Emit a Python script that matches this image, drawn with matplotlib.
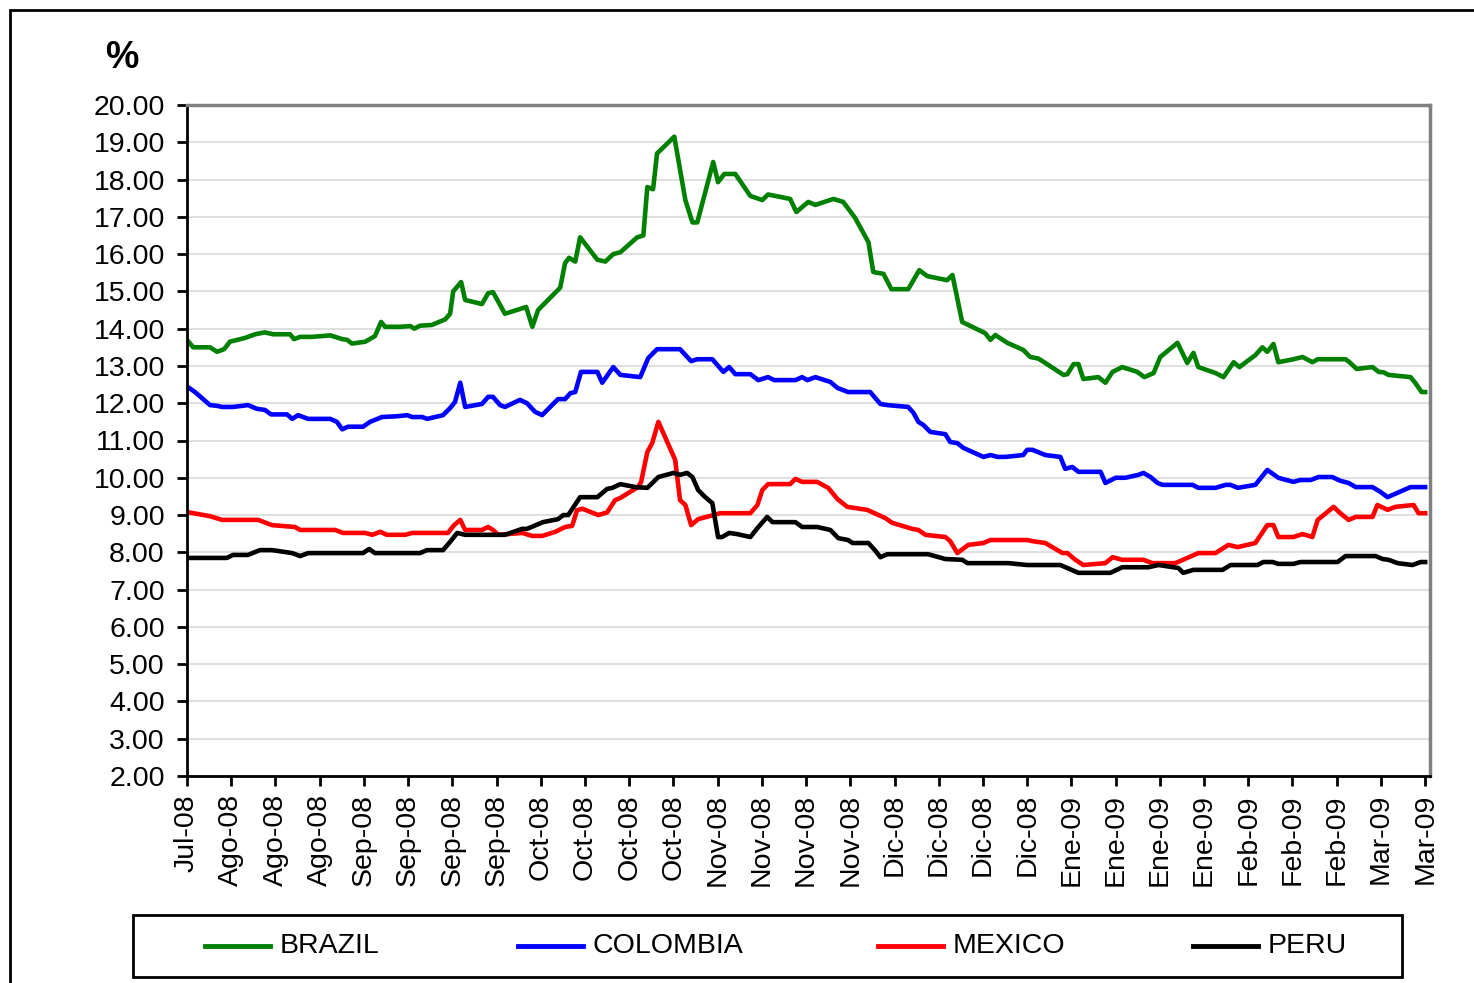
import matplotlib.pyplot as plt
from matplotlib.patches import Rectangle
from matplotlib.lines import Line2D

# x positions are in units of the category ticks (0 = first label, 28 = last)
tick_labels = ['Jul-08', 'Ago-08', 'Ago-08', 'Ago-08', 'Sep-08', 'Sep-08', 'Sep-08', 'Sep-08',
               'Oct-08', 'Oct-08', 'Oct-08', 'Oct-08', 'Nov-08', 'Nov-08', 'Nov-08', 'Nov-08',
               'Dic-08', 'Dic-08', 'Dic-08', 'Dic-08', 'Ene-09', 'Ene-09', 'Ene-09', 'Ene-09',
               'Feb-09', 'Feb-09', 'Feb-09', 'Mar-09', 'Mar-09']

brazil_x = [0.00, 0.14, 0.52, 0.68, 0.84, 0.97, 1.31, 1.54, 1.76, 1.95, 2.33, 2.42, 2.56, 2.83,
            3.24, 3.51, 3.62, 3.73, 4.03, 4.25, 4.39, 4.48, 4.82, 5.05, 5.14, 5.27, 5.54, 5.84,
            5.95, 6.02, 6.20, 6.29, 6.67, 6.81, 6.92, 7.19, 7.67, 7.81, 7.94, 8.44, 8.55, 8.64,
            8.78, 8.89, 9.28, 9.46, 9.64, 9.80, 10.18, 10.32, 10.41, 10.54, 10.63, 11.02, 11.27,
            11.43, 11.54, 11.90, 12.01, 12.15, 12.40, 12.74, 13.01, 13.14, 13.64, 13.78, 14.05,
            14.21, 14.62, 14.84, 15.11, 15.41, 15.52, 15.75, 15.93, 16.31, 16.56, 16.74, 17.19,
            17.31, 17.53, 18.05, 18.17, 18.28, 18.55, 18.91, 19.07, 19.25, 19.41, 19.82, 19.91,
            20.05, 20.16, 20.27, 20.61, 20.77, 20.93, 21.15, 21.49, 21.65, 21.86, 22.01, 22.40,
            22.62, 22.76, 22.87, 23.26, 23.44, 23.67, 23.80, 24.16, 24.32, 24.43, 24.57, 24.68,
            25.02, 25.23, 25.45, 25.57, 26.20, 26.29, 26.45, 26.81, 26.95, 27.06, 27.17, 27.67,
            27.78, 27.92, 28.00]
brazil_y = [13.70, 13.50, 13.50, 13.38, 13.45, 13.65, 13.75, 13.85, 13.90, 13.85, 13.85, 13.72,
            13.78, 13.78, 13.82, 13.72, 13.70, 13.60, 13.65, 13.80, 14.18, 14.05, 14.05, 14.07,
            14.00, 14.08, 14.10, 14.25, 14.40, 15.00, 15.25, 14.77, 14.66, 14.95, 14.98, 14.40,
            14.58, 14.05, 14.50, 15.10, 15.76, 15.90, 15.80, 16.45, 15.85, 15.80, 16.00, 16.05,
            16.45, 16.50, 17.80, 17.74, 18.70, 19.15, 17.45, 16.85, 16.85, 18.47, 17.93, 18.15,
            18.15, 17.56, 17.45, 17.60, 17.48, 17.13, 17.40, 17.32, 17.48, 17.40, 16.97, 16.32,
            15.52, 15.47, 15.06, 15.06, 15.57, 15.41, 15.30, 15.44, 14.18, 13.88, 13.70, 13.83,
            13.62, 13.43, 13.24, 13.20, 13.08, 12.76, 12.78, 13.05, 13.05, 12.65, 12.70, 12.55,
            12.84, 12.97, 12.84, 12.70, 12.81, 13.24, 13.62, 13.08, 13.35, 12.97, 12.81, 12.70,
            13.10, 12.97, 13.29, 13.50, 13.38, 13.59, 13.10, 13.18, 13.24, 13.10, 13.18, 13.18,
            13.10, 12.92, 12.97, 12.84, 12.83, 12.76, 12.70, 12.54, 12.30, 12.30]

colombia_x = [0.00, 0.18, 0.52, 0.68, 0.79, 1.04, 1.38, 1.58, 1.76, 1.90, 2.26, 2.38, 2.51, 2.74,
              3.24, 3.39, 3.51, 3.64, 3.98, 4.14, 4.41, 4.75, 4.98, 5.09, 5.32, 5.43, 5.79, 5.95,
              6.06, 6.18, 6.29, 6.67, 6.81, 6.92, 7.08, 7.19, 7.53, 7.69, 7.87, 8.03, 8.39, 8.55,
              8.67, 8.78, 8.91, 9.28, 9.39, 9.64, 9.80, 10.25, 10.43, 10.63, 11.15, 11.40, 11.54,
              11.88, 12.13, 12.26, 12.40, 12.74, 12.92, 13.14, 13.28, 13.76, 13.91, 14.03, 14.21,
              14.55, 14.71, 14.95, 15.45, 15.68, 15.84, 16.31, 16.43, 16.54, 16.65, 16.81, 17.15,
              17.26, 17.42, 17.56, 18.01, 18.17, 18.33, 18.51, 18.91, 19.00, 19.12, 19.41, 19.75,
              19.86, 20.02, 20.16, 20.66, 20.77, 21.00, 21.22, 21.52, 21.63, 21.79, 21.95, 22.06,
              22.74, 22.87, 23.26, 23.49, 23.60, 23.76, 24.16, 24.43, 24.68, 25.02, 25.18, 25.41,
              25.59, 25.90, 26.08, 26.27, 26.43, 26.81, 26.99, 27.15, 27.38, 27.67, 28.00]
colombia_y = [12.45, 12.30, 11.95, 11.93, 11.90, 11.90, 11.95, 11.85, 11.82, 11.70, 11.70, 11.58,
              11.68, 11.58, 11.58, 11.50, 11.30, 11.37, 11.37, 11.50, 11.63, 11.65, 11.68, 11.63,
              11.63, 11.58, 11.68, 11.87, 12.03, 12.55, 11.90, 11.98, 12.17, 12.17, 11.95, 11.90,
              12.09, 12.00, 11.77, 11.68, 12.11, 12.11, 12.27, 12.30, 12.84, 12.84, 12.55, 12.97,
              12.76, 12.70, 13.21, 13.45, 13.45, 13.13, 13.18, 13.18, 12.84, 12.97, 12.78, 12.78,
              12.62, 12.70, 12.62, 12.62, 12.70, 12.62, 12.70, 12.57, 12.41, 12.30, 12.30, 11.98,
              11.95, 11.90, 11.74, 11.50, 11.42, 11.23, 11.17, 10.96, 10.93, 10.80, 10.56, 10.61,
              10.56, 10.56, 10.61, 10.75, 10.75, 10.61, 10.56, 10.24, 10.29, 10.16, 10.16, 9.86,
              10.00, 10.00, 10.08, 10.13, 10.02, 9.86, 9.81, 9.81, 9.73, 9.73, 9.81, 9.81, 9.73,
              9.81, 10.21, 10.00, 9.89, 9.94, 9.94, 10.02, 10.02, 9.92, 9.86, 9.75, 9.75, 9.62,
              9.48, 9.60, 9.75, 9.75]

mexico_x = [0.00, 0.52, 0.79, 1.61, 1.92, 2.44, 2.56, 3.35, 3.53, 4.03, 4.19, 4.37, 4.52, 4.93,
            5.09, 5.90, 6.04, 6.18, 6.29, 6.67, 6.81, 6.92, 7.04, 7.58, 7.81, 8.03, 8.33, 8.55,
            8.71, 8.82, 8.94, 9.30, 9.50, 9.68, 9.80, 10.20, 10.27, 10.41, 10.52, 10.66, 11.04,
            11.15, 11.27, 11.40, 11.56, 12.06, 12.29, 12.74, 12.90, 13.01, 13.14, 13.64, 13.76,
            13.91, 14.25, 14.50, 14.71, 14.93, 15.38, 15.79, 15.95, 16.40, 16.54, 16.70, 17.15,
            17.26, 17.42, 17.67, 18.01, 18.17, 19.00, 19.12, 19.41, 19.80, 19.91, 20.09, 20.27,
            20.77, 20.93, 21.15, 21.63, 21.83, 22.35, 22.87, 23.26, 23.55, 23.76, 24.16, 24.43,
            24.57, 24.68, 25.02, 25.23, 25.45, 25.57, 25.93, 26.08, 26.27, 26.43, 26.81, 26.92,
            27.15, 27.33, 27.74, 27.85, 28.00]
mexico_y = [9.08, 8.97, 8.87, 8.87, 8.73, 8.68, 8.60, 8.60, 8.52, 8.52, 8.47, 8.55, 8.47, 8.47,
            8.52, 8.52, 8.73, 8.87, 8.60, 8.60, 8.68, 8.60, 8.47, 8.52, 8.44, 8.44, 8.55, 8.68,
            8.71, 9.13, 9.17, 9.00, 9.07, 9.40, 9.46, 9.75, 9.89, 10.69, 10.93, 11.50, 10.48,
            9.40, 9.27, 8.73, 8.89, 9.05, 9.05, 9.05, 9.27, 9.67, 9.83, 9.83, 9.97, 9.89, 9.89,
            9.73, 9.43, 9.22, 9.14, 8.92, 8.79, 8.63, 8.60, 8.47, 8.41, 8.30, 7.98, 8.20, 8.25,
            8.33, 8.33, 8.30, 8.25, 7.98, 7.98, 7.80, 7.66, 7.71, 7.87, 7.80, 7.80, 7.71, 7.71,
            7.98, 7.98, 8.20, 8.14, 8.25, 8.73, 8.73, 8.41, 8.41, 8.49, 8.41, 8.87, 9.22, 9.05,
            8.87, 8.95, 8.95, 9.27, 9.14, 9.22, 9.27, 9.05, 9.05]

peru_x = [0.00, 0.90, 1.04, 1.38, 1.65, 1.92, 2.38, 2.56, 2.74, 3.98, 4.12, 4.25, 5.27, 5.43,
          5.79, 5.95, 6.11, 6.29, 7.19, 7.58, 7.69, 8.05, 8.39, 8.51, 8.62, 8.89, 9.28, 9.50,
          9.62, 9.80, 10.14, 10.41, 10.66, 11.00, 11.15, 11.31, 11.43, 11.56, 11.72, 11.88,
          12.01, 12.10, 12.26, 12.44, 12.74, 12.90, 13.12, 13.24, 13.76, 13.91, 14.25, 14.55,
          14.73, 14.95, 15.05, 15.41, 15.57, 15.68, 15.84, 16.76, 17.15, 17.53, 17.65, 18.57,
          19.00, 19.75, 20.16, 20.88, 21.15, 21.74, 21.97, 22.31, 22.42, 22.53, 22.76, 23.42,
          23.60, 24.21, 24.34, 24.55, 24.68, 25.02, 25.18, 26.02, 26.20, 26.88, 27.04, 27.17,
          27.38, 27.71, 27.90, 28.00]
peru_y = [7.85, 7.85, 7.93, 7.93, 8.06, 8.06, 7.98, 7.90, 7.98, 7.98, 8.09, 7.98, 7.98, 8.06,
          8.06, 8.28, 8.52, 8.47, 8.47, 8.63, 8.63, 8.81, 8.89, 9.00, 9.00, 9.48, 9.48, 9.70,
          9.73, 9.83, 9.75, 9.73, 10.02, 10.13, 10.08, 10.13, 10.02, 9.67, 9.48, 9.32, 8.41,
          8.41, 8.52, 8.49, 8.41, 8.65, 8.95, 8.81, 8.81, 8.68, 8.68, 8.60, 8.38, 8.33, 8.25,
          8.25, 8.04, 7.87, 7.95, 7.95, 7.82, 7.80, 7.71, 7.71, 7.66, 7.66, 7.45, 7.45, 7.60,
          7.60, 7.66, 7.60, 7.58, 7.45, 7.53, 7.53, 7.66, 7.66, 7.74, 7.74, 7.69, 7.69, 7.74,
          7.74, 7.90, 7.90, 7.82, 7.80, 7.71, 7.66, 7.74, 7.74]

series = [('BRAZIL', brazil_x, brazil_y, '#008000'),
          ('COLOMBIA', colombia_x, colombia_y, '#0000ff'),
          ('MEXICO', mexico_x, mexico_y, '#ff0000'),
          ('PERU', peru_x, peru_y, '#000000')]

plt.rcParams['font.family'] = ['Liberation Sans', 'DejaVu Sans']

W, H = 1474, 983
fig = plt.figure(figsize=(W / 100, H / 100), dpi=100)
ax = fig.add_axes([187 / W, 1 - 776 / H, 1243 / W, 671 / H])

for name, xs, ys, col in series:
    ax.plot(xs, ys, color=col, lw=3.3, label=name, solid_joinstyle='round')

ax.set_xlim(0, 28.11)
ax.set_ylim(2, 20)
ax.set_yticks(range(2, 21))
ax.set_yticklabels(['%.2f' % v for v in range(2, 21)])
ax.set_xticks(range(len(tick_labels)))
ax.set_xticklabels(tick_labels, rotation=90)
ax.tick_params(axis='y', labelsize=20.5, length=7, width=2, pad=9, direction='out')
ax.tick_params(axis='x', labelsize=20.5, length=7, width=2, pad=6, direction='out')
ax.yaxis.grid(True, color='#e0e0e0', lw=1.5)
ax.set_axisbelow(True)
for s in ['left', 'bottom']:
    ax.spines[s].set_color('black')
    ax.spines[s].set_linewidth(2)
for s in ['top', 'right']:
    ax.spines[s].set_color('#808080')
    ax.spines[s].set_linewidth(2.5)

fig.text(122 / W, 1 - 58 / H, '%', fontsize=27, fontweight='bold', ha='center', va='center')

# legend box drawn by hand to match the spread-out layout
fig.patches.append(Rectangle((133 / W, 1 - 977 / H), 1269 / W, 62 / H, transform=fig.transFigure,
                             fill=False, edgecolor='black', lw=2))
handle_starts = [205, 518, 878, 1193]
leg_y = 1 - 946 / H
for (name, xs, ys, col), hx in zip(series, handle_starts):
    fig.add_artist(Line2D([hx / W, (hx + 65) / W], [leg_y, leg_y], transform=fig.transFigure,
                          color=col, lw=3.5))
    fig.text((hx + 75) / W, leg_y, name, fontsize=20.5, ha='left', va='center')

# outer chart border
fig.patches.append(Rectangle((10 / W, -0.1), 1.2, 1 - 10 / H + 0.1, transform=fig.transFigure,
                             fill=False, edgecolor='black', lw=2))

fig.savefig('out.png', dpi=100)
